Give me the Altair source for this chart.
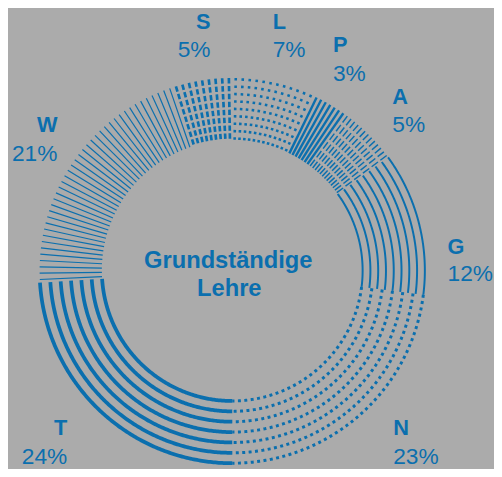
import math
import pandas as pd
import altair as alt

# ---- data ----
categories = ["L", "P", "A", "G", "N", "T", "W", "S"]
shares = [7, 3, 5, 12, 23, 24, 21, 5]
share_labels = ["7%", "3%", "5%", "12%", "23%", "24%", "21%", "5%"]
center_title = ["Grundständige", "Lehre"]

# ---- layout / style ----
W, H = 492, 461
CX, CY = 227, 263
R_IN, R_OUT = 132, 195
BLUE = "#0b6fae"
BG = "#ababab"
FONT = "Liberation Sans"

styles = {
    "L": dict(kind="radial", step=2.1, width=2.6, dash=[2.6, 4.9]),
    "P": dict(kind="radial", step=1.55, width=2.4, dash=None),
    "A": dict(kind="radial", step=1.4, width=1.5, dash=[8, 3]),
    "G": dict(kind="ring", n=9, width=2.0, dash=None),
    "N": dict(kind="ring", n=7, width=3.0, dash=[3, 3.5]),
    "T": dict(kind="ring", n=7, width=3.8, dash=None),
    "W": dict(kind="radial", step=1.9, width=1.2, dash=None),
    "S": dict(kind="radial", step=2.0, width=2.7, dash=[5.5, 2.5]),
}

# label anchors (plot coordinates, baseline), align
label_pos = {
    "L": (268, 18, 47, "left"),
    "P": (329, 42, 71, "left"),
    "A": (389, 94, 123, "left"),
    "G": (445, 246, 274, "left"),
    "N": (390, 429, 459, "left"),
    "T": (60, 429, 459, "right"),
    "W": (50, 123, 152, "right"),
    "S": (205, 18, 47, "right"),
}

xs = alt.Scale(domain=[0, W], nice=False, zero=False)
ys = alt.Scale(domain=[H, 0], nice=False, zero=False)


def polar(r, deg):
    a = math.radians(deg)
    return CX + r * math.sin(a), CY - r * math.cos(a)


layers = []
start = 0.0
for cat, share in zip(categories, shares):
    span = share / 100 * 360
    st = styles[cat]
    if st["kind"] == "radial":
        n = max(1, round(span / st["step"]))
        rows = []
        for i in range(n):
            ang = start + (i + 0.5) * span / n
            x1, y1 = polar(R_OUT, ang)
            x2, y2 = polar(R_IN, ang)
            rows.append(dict(cat=cat, x=x1, y=y1, x2=x2, y2=y2))
        df = pd.DataFrame(rows)
        kw = dict(color=BLUE, strokeWidth=st["width"], strokeCap="butt")
        if st["dash"]:
            kw["strokeDash"] = st["dash"]
        layers.append(
            alt.Chart(df).mark_rule(**kw).encode(
                x=alt.X("x:Q", scale=xs, axis=None),
                y=alt.Y("y:Q", scale=ys, axis=None),
                x2="x2:Q",
                y2="y2:Q",
            )
        )
    else:
        n = st["n"]
        rows = []
        steps = max(2, int(span / 0.5))
        for k in range(n):
            r = R_IN + k * (R_OUT - R_IN) / (n - 1)
            for j in range(steps + 1):
                ang = start + j * span / steps
                x, y = polar(r, ang)
                rows.append(dict(cat=cat, ring=k, seq=j, x=x, y=y))
        df = pd.DataFrame(rows)
        kw = dict(color=BLUE, strokeWidth=st["width"], strokeCap="butt")
        if st["dash"]:
            kw["strokeDash"] = st["dash"]
        layers.append(
            alt.Chart(df).mark_line(**kw).encode(
                x=alt.X("x:Q", scale=xs, axis=None),
                y=alt.Y("y:Q", scale=ys, axis=None),
                detail="ring:N",
                order="seq:Q",
            )
        )
    start += span

# labels
lab_rows = []
for cat, pct in zip(categories, share_labels):
    x, yn, yp, al = label_pos[cat]
    lab_rows.append(dict(cat=cat, pct=pct, x=x, yn=yn, yp=yp, align=al))
lab = pd.DataFrame(lab_rows)

for al in ["left", "right"]:
    sub = lab[lab["align"] == al]
    layers.append(
        alt.Chart(sub).mark_text(
            align=al, baseline="alphabetic", font=FONT, fontSize=22,
            fontWeight="bold", color=BLUE
        ).encode(
            x=alt.X("x:Q", scale=xs, axis=None),
            y=alt.Y("yn:Q", scale=ys, axis=None),
            text="cat:N",
        )
    )
    layers.append(
        alt.Chart(sub).mark_text(
            align=al, baseline="alphabetic", font=FONT, fontSize=23,
            fontWeight="normal", color=BLUE
        ).encode(
            x=alt.X("x:Q", scale=xs, axis=None),
            y=alt.Y("yp:Q", scale=ys, axis=None),
            text="pct:N",
        )
    )

title_df = pd.DataFrame(
    dict(t=center_title, x=[223, 224], y=[260, 289])
)
layers.append(
    alt.Chart(title_df).mark_text(
        align="center", baseline="alphabetic", font=FONT, fontSize=24,
        fontWeight="bold", color=BLUE
    ).encode(
        x=alt.X("x:Q", scale=xs, axis=None),
        y=alt.Y("y:Q", scale=ys, axis=None),
        text="t:N",
    )
)

chart = (
    alt.layer(*layers)
    .properties(width=W, height=H, background=BG, padding=0, autosize="none")
    .configure_view(strokeWidth=0)
)

chart.save("out.html", embed_options={"renderer": "svg", "actions": False})
